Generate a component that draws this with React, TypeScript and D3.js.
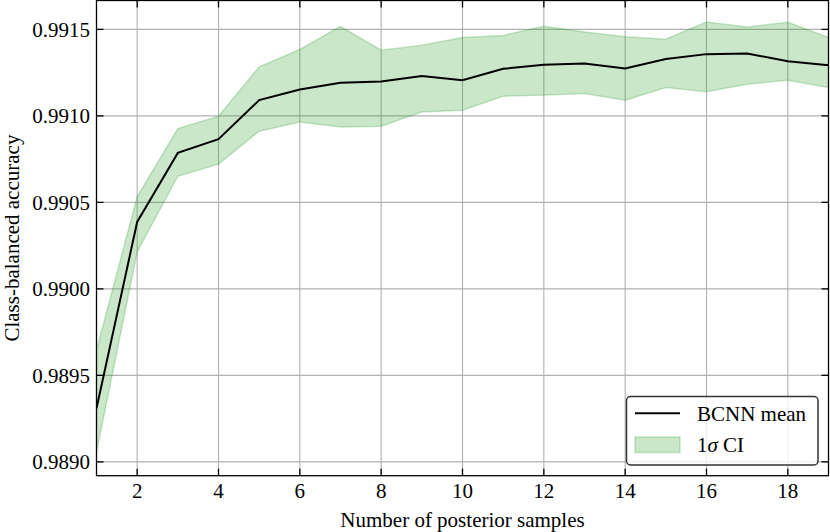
import React from "react";
import * as d3 from "d3";

const samples = [1, 2, 3, 4, 5, 6, 7, 8, 9, 10, 11, 12, 13, 14, 15, 16, 17, 18, 19];
const meanAcc = [0.989309, 0.990387, 0.990786, 0.990865, 0.991091, 0.991152, 0.991191, 0.991199, 0.991231, 0.991206, 0.991272, 0.991295, 0.991303, 0.991274, 0.991329, 0.991357, 0.991361, 0.991316, 0.991293];
const upperAcc = [0.989646, 0.990532, 0.990927, 0.990998, 0.991283, 0.991384, 0.991518, 0.99138, 0.991409, 0.991453, 0.991465, 0.991518, 0.991485, 0.991457, 0.991443, 0.991543, 0.991514, 0.991541, 0.991453];
const lowerAcc = [0.989056, 0.990214, 0.990651, 0.990721, 0.990911, 0.990965, 0.990936, 0.99094, 0.991023, 0.991033, 0.991114, 0.99112, 0.991129, 0.991091, 0.991164, 0.991139, 0.991183, 0.991206, 0.991164];
const xTicks = [2, 4, 6, 8, 10, 12, 14, 16, 18];
const yTicks = [0.989, 0.9895, 0.99, 0.9905, 0.991, 0.9915];
const legendMean = "BCNN mean";
const legendCI = ["1", "\u03C3", " CI"];

const W = 830;
const H = 532;
const L = 96.5, R = 828.5, T = 0.5, B = 475.7;
const FONT = "'Liberation Serif', 'DejaVu Serif', serif";
const FS = 21;
const GREEN = "#2ca02c";

export default function App() {
  const x = d3.scaleLinear().domain([1, 19]).range([L, R]);
  const y = d3.scaleLinear().domain([0.98892, 0.991667]).range([B, T]);
  const data = samples.map((s, i) => ({ s, m: meanAcc[i], u: upperAcc[i], l: lowerAcc[i] }));
  const area = d3.area<any>().x((d) => x(d.s)).y0((d) => y(d.l)).y1((d) => y(d.u));
  const upLine = d3.line<any>().x((d) => x(d.s)).y((d) => y(d.u));
  const loLine = d3.line<any>().x((d) => x(d.s)).y((d) => y(d.l));
  const meanLine = d3.line<any>().x((d) => x(d.s)).y((d) => y(d.m));
  const tl = 7;
  const lx = 626.5, ly = 396.5, lw = 191.5, lh = 68.5;

  return (
    <div style={{ position: "absolute", left: 0, top: 0 }}>
      <svg width={W} height={H} style={{ display: "block" }} fontFamily={FONT}>
        <rect x={0} y={0} width={W} height={H} fill="#fff" />
        <defs>
          <clipPath id="plotclip">
            <rect x={L} y={T} width={R - L} height={B - T} />
          </clipPath>
        </defs>
        {xTicks.map((t) => (
          <line key={"gx" + t} x1={x(t)} x2={x(t)} y1={T} y2={B} stroke="#b0b0b0" strokeWidth={1.1} />
        ))}
        {yTicks.map((t) => (
          <line key={"gy" + t} x1={L} x2={R} y1={y(t)} y2={y(t)} stroke="#b0b0b0" strokeWidth={1.1} />
        ))}
        <g clipPath="url(#plotclip)">
          <path d={area(data) || ""} fill={GREEN} fillOpacity={0.25} stroke="none" />
          <path d={upLine(data) || ""} fill="none" stroke={GREEN} strokeOpacity={0.25} strokeWidth={1.5} />
          <path d={loLine(data) || ""} fill="none" stroke={GREEN} strokeOpacity={0.25} strokeWidth={1.5} />
          <path d={meanLine(data) || ""} fill="none" stroke="#000" strokeWidth={2} />
        </g>
        {xTicks.map((t) => (
          <g key={"tx" + t}>
            <line x1={x(t)} x2={x(t)} y1={B} y2={B - tl} stroke="#000" strokeWidth={1.3} />
            <line x1={x(t)} x2={x(t)} y1={T} y2={T + tl} stroke="#000" strokeWidth={1.3} />
            <text x={x(t)} y={498} textAnchor="middle" fontSize={FS} fill="#000">{t}</text>
          </g>
        ))}
        {yTicks.map((t) => (
          <g key={"ty" + t}>
            <line x1={L} x2={L + tl} y1={y(t)} y2={y(t)} stroke="#000" strokeWidth={1.3} />
            <line x1={R} x2={R - tl} y1={y(t)} y2={y(t)} stroke="#000" strokeWidth={1.3} />
            <text x={90} y={y(t)} dy="0.35em" textAnchor="end" fontSize={FS} fill="#000">{t.toFixed(4)}</text>
          </g>
        ))}
        <rect x={L} y={T} width={R - L} height={B - T} fill="none" stroke="#000" strokeWidth={1.3} />
        <text x={(L + R) / 2} y={527} textAnchor="middle" fontSize={FS} fill="#000">Number of posterior samples</text>
        <text transform={`translate(19, ${(T + B) / 2}) rotate(-90)`} textAnchor="middle" fontSize={FS} fill="#000">Class-balanced accuracy</text>
        <rect x={lx} y={ly} width={lw} height={lh} rx={4} ry={4} fill="#fff" fillOpacity={0.8} stroke="#333" strokeWidth={1.5} />
        <line x1={635} x2={680} y1={413.3} y2={413.3} stroke="#000" strokeWidth={2} />
        <rect x={635} y={437} width={45} height={15.5} fill={GREEN} fillOpacity={0.25} stroke={GREEN} strokeOpacity={0.25} strokeWidth={1.5} />
        <text x={697} y={420.5} fontSize={FS} fill="#000">{legendMean}</text>
        <text x={697} y={451.5} fontSize={FS} fill="#000">
          {legendCI[0]}
          <tspan fontStyle="italic">{legendCI[1]}</tspan>
          {legendCI[2]}
        </text>
      </svg>
    </div>
  );
}
